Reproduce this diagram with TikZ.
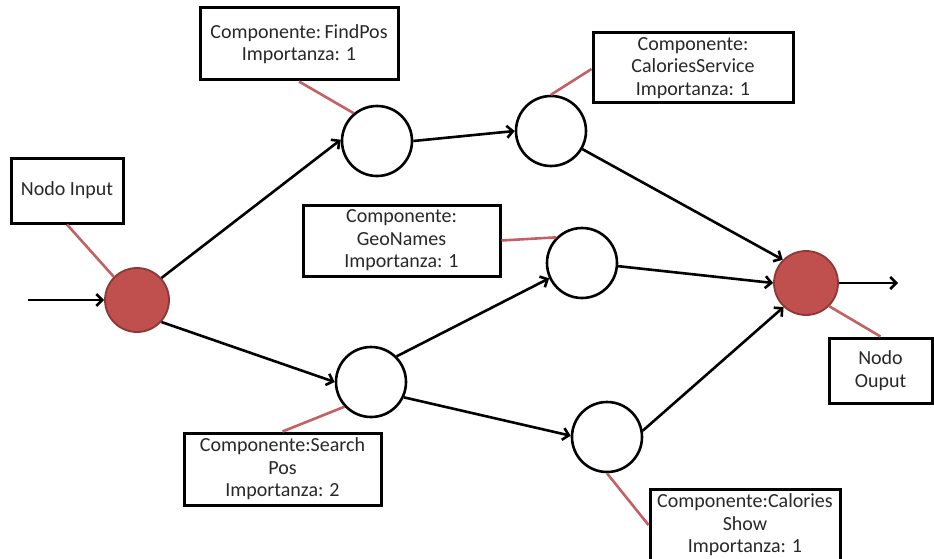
\documentclass[tikz,border=0pt]{standalone}
\usepackage{fontspec}
\setmainfont{Carlito}
\usetikzlibrary{arrows.meta}
\definecolor{nodered}{RGB}{192,80,77}
\definecolor{nodeedge}{RGB}{140,56,54}
\definecolor{linkred}{RGB}{196,96,100}
\definecolor{txt}{RGB}{40,40,40}
\begin{document}
\begin{tikzpicture}[x=1pt,y=-1pt,
  comp/.style={circle,draw=black,line width=2.6pt,fill=white,minimum size=70pt,inner sep=0pt},
  term/.style={circle,draw=nodeedge,line width=1.8pt,fill=nodered,minimum size=64pt,inner sep=0pt},
  label box/.style={rectangle,draw=black,line width=3pt,fill=white,inner sep=0pt,
    align=center,text=txt,font=\fontsize{20}{22.5}\selectfont},
  link/.style={draw=linkred,line width=2.6pt},
  flow/.style={draw=black,line width=2.6pt,-{Straight Barb[length=6pt,width=12pt,line width=2.6pt]}}]
\useasboundingbox (0,0) rectangle (934,559);

% processing nodes
\node[term] (in)  at (137,300) {};
\node[term] (out) at (806,283) {};
\node[comp] (fp)  at (377,141) {};
\node[comp] (cs)  at (551,131) {};
\node[comp] (geo) at (582,263) {};
\node[comp] (sp)  at (371,382) {};
\node[comp] (csh) at (607,437) {};

% description boxes
\node[label box,minimum width=112pt,minimum height=65pt] (bin)  at (67,190.5) {Nodo Input};
\node[label box,minimum width=198pt,minimum height=72pt] (bfp)  at (299,44) {Componente:\,FindPos\\Importanza: 1};
\node[label box,minimum width=200pt,minimum height=70pt] (bcs)  at (693,68) {Componente:\\CaloriesService\\Importanza: 1};
\node[label box,minimum width=197pt,minimum height=71pt] (bgeo) at (401.5,240.5) {Componente:\\GeoNames\\Importanza: 1};
\node[label box,minimum width=103pt,minimum height=65pt] (bout) at (880.5,370.5) {Nodo\\Ouput};
\node[label box,minimum width=197pt,minimum height=72pt] (bsp)  at (282.5,469) {Componente:Search\\Pos\\Importanza: 2};
\node[label box,minimum width=190pt,minimum height=72pt] (bcsh) at (745,525) {Componente:Calories\\Show\\Importanza: 1};

% links between boxes and nodes
\draw[link] (bin.south) -- (in.135);
\draw[link] (bfp.south) -- (fp.130);
\draw[link] (bcs.west |- 0,69) -- (cs.90);
\draw[link] (bgeo.east) -- (geo.135);
\draw[link] (bout.north) -- (out.-45);
\draw[link] (bsp.north) -- (sp.223);
\draw[link] (bcsh.west) -- (csh.270);

% flow
\coordinate (src) at (28,300);
\coordinate (dst) at (898,283);
\draw[flow] (src) -- (in.180);
\draw[flow] (out.east) -- (dst);
\draw[flow] (in.42) -- (fp.178);
\draw[flow] (in.-42) -- (sp.180);
\draw[flow] (fp.east) -- (cs.west);
\draw[flow] (cs.-30) -- (out.135);
\draw[flow] (sp.45) -- (geo.205);
\draw[flow] (geo.-5) -- (out.180);
\draw[flow] (sp.-25) -- (csh.178);
\draw[flow] (csh.10) -- (out.227);
\end{tikzpicture}
\end{document}
